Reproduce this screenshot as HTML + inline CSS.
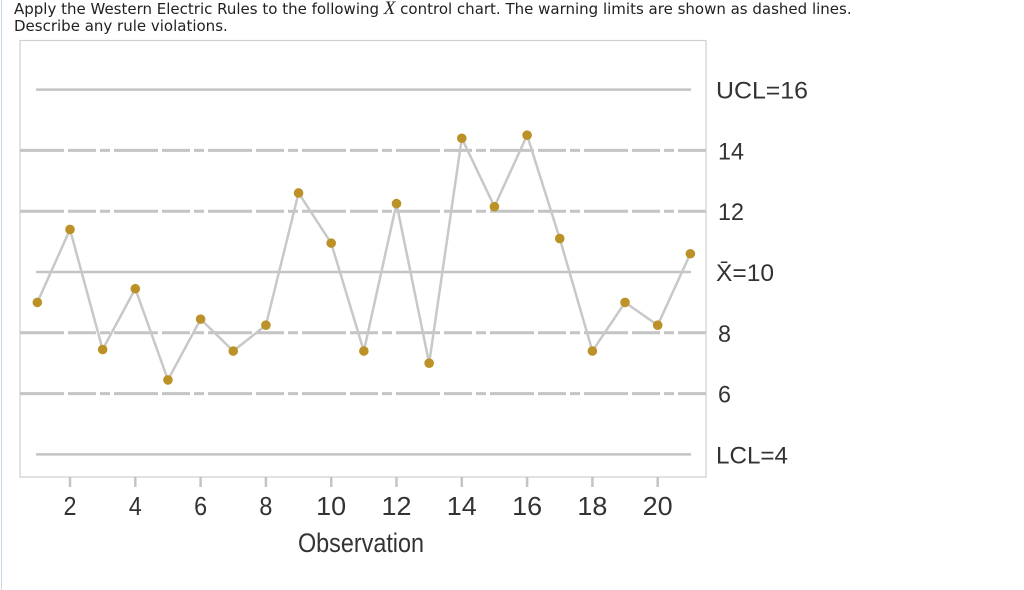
<!DOCTYPE html>
<html><head><meta charset="utf-8"><style>
body{margin:0;background:#fff;width:1024px;height:590px;overflow:hidden;position:relative;font-family:"DejaVu Sans",Verdana,sans-serif}
#q{position:absolute;left:14px;top:0px;font-size:15px;line-height:17px;color:#222;white-space:nowrap}
#lb{position:absolute;left:1px;top:0;width:1px;height:590px;background:#c8d6e8}
svg{position:absolute;left:0;top:0}
</style></head><body>
<div id="lb"></div>
<div id="q">Apply the Western Electric Rules to the following <i style="font-family:'Liberation Serif',serif;font-size:19px">X</i> control chart. The warning limits are shown as dashed lines.<br>Describe any rule violations.</div>
<svg id="c" width="1024" height="590"></svg>
<script>
const obs=[1,2,3,4,5,6,7,8,9,10,11,12,13,14,15,16,17,18,19,20,21];
const vals=[9.0,11.4,7.45,9.45,6.45,8.45,7.4,8.25,12.6,10.95,7.4,12.25,7.0,14.4,12.15,14.5,11.1,7.4,9.0,8.25,10.6];
const xTicks=[2,4,6,8,10,12,14,16,18,20];
const solidLines=[16,10,4];
const solidLabels=["UCL=16","X̄=10","LCL=4"];
const dashLines=[14,12,8,6];
const dashLabels=["14","12","8","6"];
const NS="http://www.w3.org/2000/svg";
const svg=document.getElementById('c');
const X=i=>70+(i-2)*32.65;
const Y=v=>272-(v-10)*30.4;
function mk(t,a){const e=document.createElementNS(NS,t);for(const k in a)e.setAttribute(k,a[k]);svg.appendChild(e);return e;}
let e=mk('rect',{x:20,y:40.5,width:686,height:436.5,fill:'none',stroke:'#cfcfcf','stroke-width':1.2});


solidLines.forEach((v,i)=>{
 let l=mk('line',{x1:36,x2:691,y1:Y(v),y2:Y(v),stroke:'#c4c4c4','stroke-width':2.5});
 
 
 let t=mk('text',{x:716,y:Y(v)+9,'font-family':'Liberation Sans,sans-serif','font-size':24,fill:'#333',textLength:i==1?58:(i==0?92:72),lengthAdjust:'spacingAndGlyphs'});
 t.textContent=solidLabels[i];
 
 
});
dashLines.forEach((v,i)=>{
 let l=mk('line',{x1:20,x2:706,y1:Y(v),y2:Y(v),stroke:'#c4c4c4','stroke-width':3,'stroke-dasharray':'44 4 28 4 10 4'});
 
 
 let t=mk('text',{x:718,y:Y(v)+9,'font-family':'Liberation Sans,sans-serif','font-size':24,fill:'#333',textLength:dashLabels[i].length*13,lengthAdjust:'spacingAndGlyphs'});
 t.textContent=dashLabels[i];
 
 
});
xTicks.forEach(v=>{
 let l=mk('line',{x1:X(v),x2:X(v),y1:477,y2:487,stroke:'#c4c4c4','stroke-width':2.5});
 
 
 let s=String(v);
 let t=mk('text',{x:X(v),y:515,'font-family':'Liberation Sans,sans-serif','font-size':26,fill:'#333','text-anchor':'middle',textLength:s.length==1?13:30,lengthAdjust:'spacingAndGlyphs'});
 t.textContent=s;
 
 
});
let xt=mk('text',{x:361,y:552,'font-family':'Liberation Sans,sans-serif','font-size':27,fill:'#333','text-anchor':'middle',textLength:126,lengthAdjust:'spacingAndGlyphs'});
xt.textContent='Observation';


let pl=mk('polyline',{points:obs.map((o,i)=>X(o)+','+Y(vals[i])).join(' '),fill:'none',stroke:'#c8c8c8','stroke-width':2.5});


obs.forEach((o,i)=>{
 let c=mk('circle',{cx:X(o),cy:Y(vals[i]),r:4.8,fill:'#bc9128'});
 
 
});
</script>
</body></html>
